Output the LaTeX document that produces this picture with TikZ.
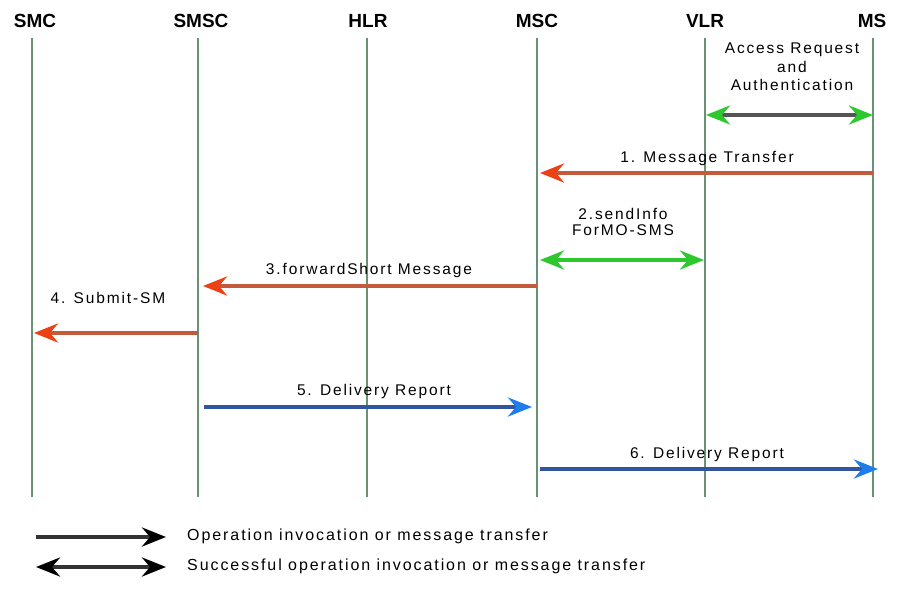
\documentclass[tikz,border=0pt]{standalone}
\usepackage{fontspec}
\setmainfont{Liberation Sans}
\newfontfamily\lblfont[LetterSpace=12]{Liberation Sans}
\usetikzlibrary{arrows.meta}
\definecolor{life}{RGB}{105,145,115}
\definecolor{redhead}{RGB}{235,65,20}
\definecolor{redshaft}{RGB}{195,90,60}
\definecolor{bluehead}{RGB}{30,125,235}
\definecolor{blueshaft}{RGB}{50,85,160}
\definecolor{greenhead}{RGB}{45,200,45}
\definecolor{greyshaft}{RGB}{85,85,85}
\tikzset{
  lifeline/.style={draw=life,line width=2.4pt},
  hdr/.style={font=\bfseries\fontsize{19}{19}\selectfont,inner sep=0pt},
  lbl/.style={font=\lblfont\fontsize{15.5}{17}\selectfont,inner sep=0pt,align=center},
  redarrow/.style={draw=redshaft,line width=4pt,-{Stealth[length=24pt,width=19pt,inset=8pt,color=redhead]}},
  bluearrow/.style={draw=blueshaft,line width=4pt,-{Stealth[length=24pt,width=19pt,inset=8pt,color=bluehead]}},
  greenbiarrow/.style={draw=#1,line width=4pt,{Stealth[length=24pt,width=19pt,inset=8pt,color=greenhead]}-{Stealth[length=24pt,width=19pt,inset=8pt,color=greenhead]}},
  legarrow/.style={draw=black!80,line width=4pt,-{Stealth[length=24pt,width=19pt,inset=8pt,color=black]}},
  legbiarrow/.style={draw=black!80,line width=4pt,{Stealth[length=24pt,width=19pt,inset=8pt,color=black]}-{Stealth[length=24pt,width=19pt,inset=8pt,color=black]}},
}
\begin{document}
\begin{tikzpicture}[x=1pt,y=-1pt]
\useasboundingbox[fill=white] (0,0) rectangle (898,590);
% headers
\node[hdr] (hsmc) at (35,21) {SMC};
\node[hdr] (hsmsc) at (201,21) {SMSC};
\node[hdr] (hhlr) at (368,21) {HLR};
\node[hdr] (hmsc) at (537,21) {MSC};
\node[hdr] (hvlr) at (705,21) {VLR};
\node[hdr] (hms) at (872,21) {MS};
% lifelines
\foreach \n/\x in {smc/32,smsc/198,hlr/367,msc/537,vlr/705,ms/873}{
  \coordinate (\n t) at (\x,38);
  \coordinate (\n b) at (\x,497);
  \draw[lifeline] (\n t) -- (\n b);
}
% Access request
\node[lbl,font=\lblfont\fontsize{15.5}{18.5}\selectfont] (tacc) at (792,67) {Access Request\\and\\Authentication};
\coordinate (acc1) at (706,115);
\coordinate (acc2) at (873,115);
\draw[greenbiarrow=greyshaft] (acc1) -- (acc2);
% 1
\node[lbl] (t1) at (707,158) {1. Message Transfer};
\coordinate (m1a) at (873,173);
\coordinate (m1b) at (540,173);
\draw[redarrow] (m1a) -- (m1b);
% 2
\node[lbl,font=\lblfont\fontsize{15.5}{16.5}\selectfont] (t2) at (623,222) {2.sendInfo\\ForMO-SMS};
\coordinate (m2a) at (540,260);
\coordinate (m2b) at (704,260);
\draw[greenbiarrow=greenhead] (m2a) -- (m2b);
% 3
\node[lbl] (t3) at (369,270) {3.forwardShort Message};
\coordinate (m3a) at (537,286);
\coordinate (m3b) at (203,286);
\draw[redarrow] (m3a) -- (m3b);
% 4
\node[lbl] (t4) at (108,298) {4. Submit-SM};
\coordinate (m4a) at (198,333);
\coordinate (m4b) at (34,333);
\draw[redarrow] (m4a) -- (m4b);
% 5
\node[lbl] (t5) at (374,391) {5. Delivery Report};
\coordinate (m5a) at (204,407);
\coordinate (m5b) at (532,407);
\draw[bluearrow] (m5a) -- (m5b);
% 6
\node[lbl] (t6) at (707,454) {6. Delivery Report};
\coordinate (m6a) at (540,469);
\coordinate (m6b) at (878,469);
\draw[bluearrow] (m6a) -- (m6b);
% legend
\coordinate (l1a) at (36,537);
\coordinate (l1b) at (166,537);
\draw[legarrow] (l1a) -- (l1b);
\node[lbl,anchor=west,font=\lblfont\fontsize{16}{17}\selectfont] (lt1) at (187,536) {Operation invocation or message transfer};
\coordinate (l2a) at (36,567);
\coordinate (l2b) at (166,567);
\draw[legbiarrow] (l2a) -- (l2b);
\node[lbl,anchor=west,font=\lblfont\fontsize{16}{17}\selectfont] (lt2) at (187,566) {Successful operation invocation or message transfer};
\end{tikzpicture}
\end{document}
